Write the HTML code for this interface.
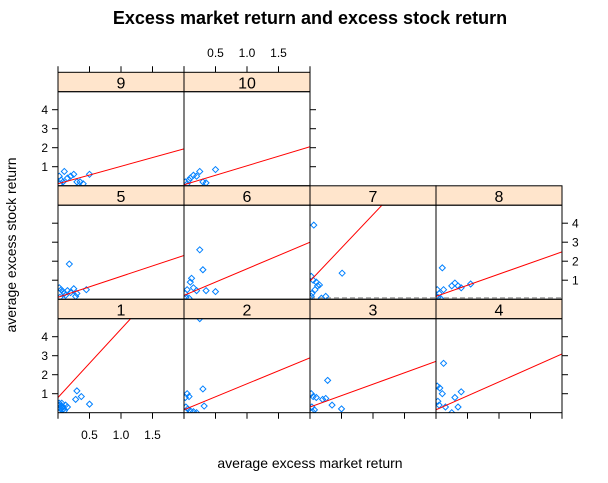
<!DOCTYPE html>
<html><head><meta charset="utf-8"><style>
body{margin:0;background:#fff}
svg{display:block;font-family:"Liberation Sans",Arial,sans-serif}
</style></head><body>
<svg id="chart" width="608" height="483">
<text x="310" y="24" text-anchor="middle" font-size="18" font-weight="bold">Excess market return and excess stock return</text>
<text x="310" y="468" text-anchor="middle" font-size="14">average excess market return</text>
<text transform="translate(16,245) rotate(-90)" text-anchor="middle" font-size="14">average excess stock return</text>
</svg>
<script>
const panelIds=[1,2,3,4,5,6,7,8,9,10];
const dashedPanels=[7,8];
const xs=[
[0.02,0.04,0.06,0.08,0.1,0.12,0.03,0.05,0.07,0.15,0.3,0.37,0.28,0.5,0.02,0.09],
[0.02,0.05,0.08,0.03,0.1,0.3,0.32,0.25,0.02,0.06,0.15,0.2],
[0.02,0.05,0.1,0.03,0.2,0.25,0.28,0.35,0.5,0.07,0.04],
[0.02,0.06,0.12,0.1,0.05,0.3,0.4,0.35,0.15,0.03,0.25],
[0.02,0.05,0.08,0.1,0.15,0.2,0.25,0.3,0.45,0.12,0.03,0.18,0.28],
[0.02,0.05,0.1,0.12,0.15,0.35,0.3,0.5,0.25,0.2,0.03,0.08],
[0.06,0.51,0.02,0.05,0.1,0.15,0.12,0.08,0.03,0.25,0.18,0.02],
[0.02,0.05,0.1,0.25,0.3,0.35,0.4,0.55,0.12,0.03,0.07],
[0.02,0.05,0.1,0.15,0.2,0.25,0.3,0.4,0.5,0.08,0.03,0.35],
[0.02,0.05,0.1,0.15,0.2,0.25,0.3,0.5,0.35,0.08]];
const ys=[
[0.4,0.2,0.5,0.3,0.1,0.4,0.05,0.35,0.15,0.3,1.15,0.85,0.7,0.45,0.5,0.2],
[0.8,1.0,0.85,0.3,0.1,1.25,0.35,4.95,0.05,0.2,0.05,0.0],
[1.0,0.85,0.8,0.3,0.7,0.75,1.7,0.4,0.2,0.15,0.05],
[1.4,1.3,2.6,1.0,0.4,0.8,1.1,0.3,0.3,0.6,0.0],
[0.6,0.5,0.4,0.3,0.45,0.35,0.55,0.3,0.5,0.2,0.1,1.85,0.15],
[0.3,0.5,0.9,1.1,0.6,0.45,1.55,0.4,2.6,0.45,0.1,0.05],
[3.9,1.37,1.2,1.0,0.9,0.75,0.7,0.5,0.3,0.15,0.05,0.15],
[0.5,0.3,1.65,0.7,0.85,0.7,0.6,0.8,0.5,0.1,0.05],
[0.5,0.3,0.75,0.4,0.5,0.6,0.2,0.1,0.6,0.2,0.1,0.2],
[0.2,0.1,0.4,0.55,0.5,0.75,0.2,0.85,0.15,0.3]];
const intercepts=[0.8,0.15,0.3,0.15,0.1,0.2,0.95,0.15,0.1,0.05];
const slopes=[3.6,1.37,1.2,1.47,1.1,1.4,3.5,1.17,0.92,1.0];
const xTicks=[0.5,1.0,1.5];
const xTickLabels=["0.5","1.0","1.5"];
const yTicks=[1,2,3,4];
const yTickLabels=["1","2","3","4"];

const svg=document.getElementById('chart');
const NS='http://www.w3.org/2000/svg';
const PW=126, STRIPH=19.4, PH=94, ROWH=113.5, X0=58, ROW1TOP=299.3;
const XMAX=2, YMAX=PH/19;
function mk(t,a,p){const e=document.createElementNS(NS,t);for(const k in a)e.setAttribute(k,a[k]);(p||svg).appendChild(e);return e;}
function colLeft(c){return X0+c*PW;}
function stripTop(r){return ROW1TOP-r*ROWH;}
function xPx(c,v){return colLeft(c)+v/XMAX*PW;}
function yPx(r,v){return stripTop(r)+STRIPH+PH-v/YMAX*PH;}
const defs=mk('defs',{});

panelIds.forEach((id,i)=>{
  const r=Math.floor(i/4), c=i%4;
  const L=colLeft(c), T=stripTop(r)+STRIPH;
  const g=mk('g',{});
  
  
  const cp=mk('clipPath',{id:'cp'+id},defs);
  mk('rect',{x:L,y:T,width:PW,height:PH},cp);
  const strip=mk('rect',{x:L,y:stripTop(r),width:PW,height:STRIPH,fill:'#ffe5cc',stroke:'#000','stroke-width':1},g);
  
  
  const st=mk('text',{x:L+PW/2,y:stripTop(r)+16,'text-anchor':'middle','font-size':16},g);
  st.textContent=String(id);
  
  
  const inner=mk('g',{'clip-path':'url(#cp'+id+')'},g);
  if(dashedPanels.includes(id)){
    const h0=mk('line',{x1:L,x2:L+PW,y1:yPx(r,0)-1.3,y2:yPx(r,0)-1.3,stroke:'#aaa','stroke-width':1.5,'stroke-dasharray':'5,3'},inner);
    
    
  }
  xs[i].forEach((xv,j)=>{
    const px=xPx(c,xv), py=yPx(r,ys[i][j]);
    const p=mk('polygon',{points:`${px},${py-3} ${px+3},${py} ${px},${py+3} ${px-3},${py}`,fill:'none',stroke:'#0080ff','stroke-width':1},inner);
    
    
  });
  const ln=mk('line',{x1:xPx(c,0),y1:yPx(r,intercepts[i]),x2:xPx(c,XMAX),y2:yPx(r,intercepts[i]+slopes[i]*XMAX),stroke:'#ff0000','stroke-width':1},inner);
  
  
  const bd=mk('rect',{x:L,y:T,width:PW,height:PH,fill:'none',stroke:'#000','stroke-width':1},g);
  
  
});

const ax=mk('g',{stroke:'#000','stroke-width':1});
function tickX(c,yb,dir,labels,ly){
  [0].concat(xTicks).concat([XMAX]).forEach(v=>{mk('line',{x1:xPx(c,v),x2:xPx(c,v),y1:yb,y2:yb+dir*6},ax);});
  if(labels) xTicks.forEach((v,k)=>{const t=mk('text',{x:xPx(c,v),y:ly,'text-anchor':'middle','font-size':12,stroke:'none',fill:'#000'});t.textContent=xTickLabels[k];
    });
}
function tickY(r,x,dir,labels){
  yTicks.forEach((v,k)=>{const y=yPx(r,v);mk('line',{x1:x,x2:x+dir*6,y1:y,y2:y},ax);
    if(labels){const t=mk('text',{x:dir<0?x-10:x+10,y:y+4.5,'text-anchor':dir<0?'end':'start','font-size':12,stroke:'none',fill:'#000'});t.textContent=yTickLabels[k];
      }});
}
const bottomY=stripTop(0)+ROWH;
for(let c=0;c<4;c++) tickX(c,bottomY,1,c===0,439);
tickX(0,stripTop(2),-1,false);
tickX(1,stripTop(2),-1,true,57);
tickY(0,X0,-1,true); tickY(1,X0,-1,false); tickY(2,X0,-1,true);
tickY(0,X0+4*PW,1,false); tickY(1,X0+4*PW,1,true); tickY(2,X0+2*PW,1,false);
</script>
</body></html>
